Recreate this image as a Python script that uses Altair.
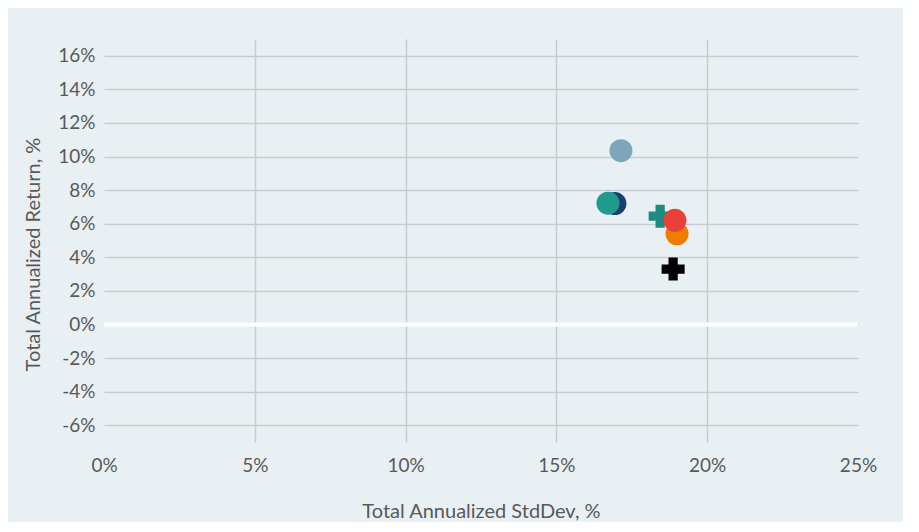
import altair as alt
import pandas as pd

# Data
series = ["A", "B", "C", "D", "E", "F", "G"]
stddev = [17.14, 16.94, 16.71, 18.44, 19.00, 18.93, 18.87]
ret = [10.35, 7.20, 7.22, 6.45, 5.40, 6.20, 3.30]
shapes = ["circle", "circle", "circle", "cross", "circle", "circle", "cross"]
colors = ["#7ea6bb", "#1b3f73", "#1f9a8c", "#1f8a80", "#f07c00", "#e8413a", "#000000"]

x_ticks = [0, 5, 10, 15, 20, 25]
y_ticks = [-6, -4, -2, 0, 2, 4, 6, 8, 10, 12, 14, 16]
zero_line = [0]

df = pd.DataFrame({"series": series, "sd": stddev, "ret": ret,
                   "shape": shapes, "color": colors, "order": list(range(len(series)))})

FONT = "Lato"
TXT = "#595959"
FS = 19
TFS = 20

x = alt.X("sd:Q", scale=alt.Scale(domain=[0, 25], nice=False, zero=False),
          axis=alt.Axis(values=x_ticks, labelExpr="datum.value + '%'",
                        title="Total Annualized StdDev, %", domain=False, ticks=False,
                        tickSize=0, labelPadding=14, labelFontSize=FS, titleFontSize=TFS,
                        labelFont=FONT, titleFont=FONT, labelColor=TXT, titleColor=TXT,
                        labelFlush=False, labelOverlap=False,
                        titleFontWeight="normal", titleY=69, titleBaseline="middle",
                        gridColor="#c6cdd0", gridWidth=1.5,
                        gridOpacity={"condition": {"test": "datum.value == 0 || datum.value == 25", "value": 0}, "value": 1}))
y = alt.Y("ret:Q", scale=alt.Scale(domain=[-7, 17], nice=False, zero=False),
          axis=alt.Axis(values=y_ticks, labelExpr="datum.value + '%'",
                        title="Total Annualized Return, %", domain=False, ticks=False,
                        tickSize=0, labelPadding=9, labelFontSize=FS, titleFontSize=TFS,
                        labelFont=FONT, titleFont=FONT, labelColor=TXT, titleColor=TXT,
                        labelFlush=False, labelOverlap=False, labelBound=False,
                        titleFontWeight="normal", titleX=-71, titleY=215,
                        titleBaseline="middle", titleAlign="center",
                        gridColor="#c6cdd0", gridWidth=1.5))

zero = alt.Chart(pd.DataFrame({"ret": zero_line})).mark_rule(color="white", strokeWidth=4).encode(
    y=y
)

points = alt.Chart(df).mark_point(filled=True, size=530, opacity=1, strokeWidth=0).encode(
    x=x, y=y,
    shape=alt.Shape("shape:N", scale=None),
    color=alt.Color("color:N", scale=None),
    order=alt.Order("order:Q"),
)

grid_base = alt.Chart(df).mark_point(opacity=0).encode(x=x, y=y)

chart = alt.layer(grid_base, zero, points).properties(
    width=754, height=403,
    autosize=alt.AutoSizeParams(type="none"),
    padding={"left": 96, "top": 31, "right": 45, "bottom": 80},
    background="#e8f0f3",
).configure_view(stroke=None, fill="#e8f0f3").configure_axis(labelOverlap=False)

chart.save("out.html", embed_options={"renderer": "svg", "actions": False})
